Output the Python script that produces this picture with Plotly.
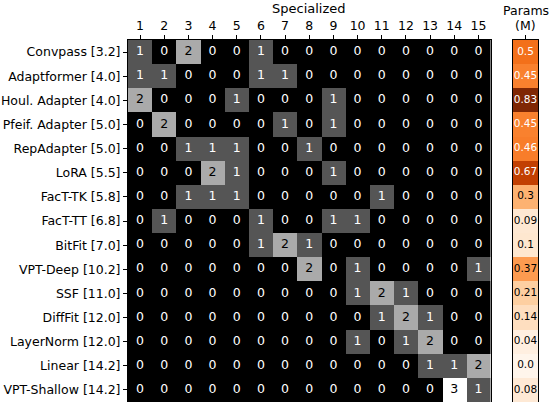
import plotly.graph_objects as go

# dados
methods = ['Convpass [3.2]', 'Adaptformer [4.0]', 'Houl. Adapter [4.0]', 'Pfeif. Adapter [5.0]',
           'RepAdapter [5.0]', 'LoRA [5.5]', 'FacT-TK [5.8]', 'FacT-TT [6.8]', 'BitFit [7.0]',
           'VPT-Deep [10.2]', 'SSF [11.0]', 'DiffFit [12.0]', 'LayerNorm [12.0]', 'Linear [14.2]',
           'VPT-Shallow [14.2]']
ranks = list(range(1, 16))
counts = [
    [1, 0, 2, 0, 0, 1, 0, 0, 0, 0, 0, 0, 0, 0, 0],
    [1, 1, 0, 0, 0, 1, 1, 0, 0, 0, 0, 0, 0, 0, 0],
    [2, 0, 0, 0, 1, 0, 0, 0, 1, 0, 0, 0, 0, 0, 0],
    [0, 2, 0, 0, 0, 0, 1, 0, 1, 0, 0, 0, 0, 0, 0],
    [0, 0, 1, 1, 1, 0, 0, 1, 0, 0, 0, 0, 0, 0, 0],
    [0, 0, 0, 2, 1, 0, 0, 0, 1, 0, 0, 0, 0, 0, 0],
    [0, 0, 1, 1, 1, 0, 0, 0, 0, 0, 1, 0, 0, 0, 0],
    [0, 1, 0, 0, 0, 1, 0, 0, 1, 1, 0, 0, 0, 0, 0],
    [0, 0, 0, 0, 0, 1, 2, 1, 0, 0, 0, 0, 0, 0, 0],
    [0, 0, 0, 0, 0, 0, 0, 2, 0, 1, 0, 0, 0, 0, 1],
    [0, 0, 0, 0, 0, 0, 0, 0, 0, 1, 2, 1, 0, 0, 0],
    [0, 0, 0, 0, 0, 0, 0, 0, 0, 0, 1, 2, 1, 0, 0],
    [0, 0, 0, 0, 0, 0, 0, 0, 0, 1, 0, 1, 2, 0, 0],
    [0, 0, 0, 0, 0, 0, 0, 0, 0, 0, 0, 0, 1, 1, 2],
    [0, 0, 0, 0, 0, 0, 0, 0, 0, 0, 0, 0, 0, 3, 1],
]
params = [0.5, 0.45, 0.83, 0.45, 0.46, 0.67, 0.3, 0.09, 0.1, 0.37, 0.21, 0.14, 0.04, 0.0, 0.08]

FONT = 'DejaVu Sans'
W, H = 549, 402
L, R, T, B = 128, 11, 40, 0
pw = W - L - R
n = len(methods)

fig = go.Figure()

# heatmap principal (cinza)
fig.add_trace(go.Heatmap(
    z=counts, x=ranks, y=methods,
    colorscale=[[0, 'black'], [1, 'white']], zmin=0, zmax=3,
    showscale=False, hoverinfo='skip',
    xaxis='x', yaxis='y'
))

# numeros das celulas
tx, ty, tt, tc = [], [], [], []
for i, m in enumerate(methods):
    for j, r in enumerate(ranks):
        v = counts[i][j]
        tx.append(r)
        ty.append(m)
        tt.append(str(v))
        tc.append('white' if v < 1.5 else 'black')
fig.add_trace(go.Scatter(
    x=tx, y=ty, text=tt, mode='text',
    textfont=dict(family=FONT, size=12.5, color=tc),
    hoverinfo='skip', showlegend=False, xaxis='x', yaxis='y'
))

# coluna de parametros
pmax = max(params)
fig.add_trace(go.Heatmap(
    z=[[p] for p in params], x=[0], y=methods,
    colorscale='Oranges', zmin=0, zmax=pmax,
    showscale=False, hoverinfo='skip',
    xaxis='x2', yaxis='y2'
))
fig.add_trace(go.Scatter(
    x=[0] * len(params), y=methods, text=[str(p) for p in params], mode='text',
    textfont=dict(family=FONT, size=10.5, color=['white' if p > pmax / 2 else 'black' for p in params]),
    hoverinfo='skip', showlegend=False, xaxis='x2', yaxis='y2'
))

d1 = (490.5 - L) / pw
d2 = (513 - L) / pw
pc = (525.5 - L) / pw

fig.update_layout(
    width=W, height=H,
    margin=dict(l=L, r=R, t=T, b=B, autoexpand=False),
    plot_bgcolor='white', paper_bgcolor='white',
    font=dict(family=FONT, size=12.5, color='black'),
    showlegend=False,
    xaxis=dict(domain=[0, d1], side='top', range=[0.5, 15.5], tickmode='array', tickvals=ranks,
               ticks='outside', ticklen=4, tickcolor='black', showgrid=False, zeroline=False,
               showline=True, linecolor='black', linewidth=1, mirror=True, automargin=False,
               tickfont=dict(size=12.5), anchor='y'),
    yaxis=dict(domain=[0, 1], range=[n - 0.5, -0.5], ticks='outside', ticklen=4, tickcolor='black',
               showgrid=False, zeroline=False, showline=True, linecolor='black', linewidth=1,
               mirror=True, automargin=False, tickfont=dict(size=12.5), anchor='x'),
    xaxis2=dict(domain=[d2, 1], side='top', range=[-0.5, 0.5], tickmode='array', tickvals=[0],
                ticktext=[''], ticks='outside', ticklen=4, tickcolor='black', showgrid=False,
                zeroline=False, showline=True, linecolor='black', linewidth=1, mirror=True,
                automargin=False, anchor='y2'),
    yaxis2=dict(domain=[0, 1], range=[n - 0.5, -0.5], showticklabels=False, showgrid=False,
                zeroline=False, showline=True, linecolor='black', linewidth=1, mirror=True,
                automargin=False, anchor='x2'),
    annotations=[
        dict(text='Specialized', x=d1 / 2, y=1, xref='paper', yref='paper', yshift=32,
             yanchor='middle', showarrow=False, font=dict(size=13)),
        dict(text='Params', x=pc, y=1, xref='paper', yref='paper', yshift=30, xanchor='center',
             yanchor='middle', showarrow=False, font=dict(size=12.5)),
        dict(text='(M)', x=pc, y=1, xref='paper', yref='paper', yshift=15, xanchor='center',
             yanchor='middle', showarrow=False, font=dict(size=12.5)),
    ],
)

# tira a margem padrao do body para a figura caber na janela
fig.write_html('out.html', config={'displayModeBar': False},
               post_script="document.body.style.margin='0';")
